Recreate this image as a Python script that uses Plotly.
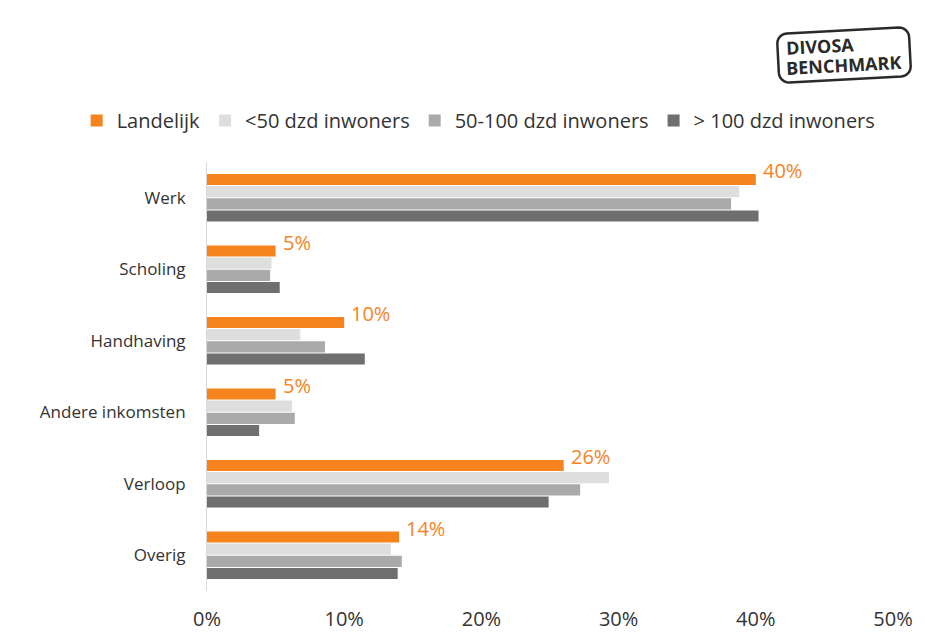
import math
import plotly.graph_objects as go

categories = ["Werk", "Scholing", "Handhaving", "Andere inkomsten", "Verloop", "Overig"]
landelijk = [40, 5, 10, 5, 26, 14]
onder_50 = [38.8, 4.7, 6.8, 6.2, 29.3, 13.4]
van_50_100 = [38.2, 4.6, 8.6, 6.4, 27.2, 14.2]
boven_100 = [40.2, 5.3, 11.5, 3.8, 24.9, 13.9]
series_names = ["Landelijk", "<50 dzd inwoners", "50-100 dzd inwoners", "> 100 dzd inwoners"]
x_ticks = [0, 10, 20, 30, 40, 50]
x_tick_labels = ["0%", "10%", "20%", "30%", "40%", "50%"]

colors = ["#F5841F", "#DEDEDE", "#AAAAAA", "#6F6F6F"]
FONT = "Open Sans"
W, H = 925, 634
L, R, T, B = 207, 32, 162, 43

fig = go.Figure()
series = [landelijk, onder_50, van_50_100, boven_100]
for name, vals, col in zip(series_names, series, colors):
    fig.add_trace(go.Bar(
        y=categories, x=vals, name=name, orientation="h",
        marker=dict(color=col, line=dict(width=0)),
        hoverinfo="x+name",
    ))

# value labels for the national series, just above the end of the orange bar
for i, v in enumerate(landelijk):
    fig.add_annotation(
        x=v, y=i - 0.255, xref="x", yref="y",
        text=f"{v}%", showarrow=False, xanchor="left", yanchor="middle",
        xshift=5, yshift=9,
        font=dict(family=FONT, size=20, color="#F5841F"),
    )


def px_to_paper(px, py):
    return (px - L) / (W - L - R), (H - B - py) / (H - T - B)


# logo: rounded, slightly tilted frame
cx, cy, bw, bh, rad, ang = 844, 55, 132, 49, 10, math.radians(-3)
pts = []
for qx, qy, a0 in [(bw / 2 - rad, -bh / 2 + rad, -90), (bw / 2 - rad, bh / 2 - rad, 0),
                   (-bw / 2 + rad, bh / 2 - rad, 90), (-bw / 2 + rad, -bh / 2 + rad, 180)]:
    for k in range(7):
        a = math.radians(a0 + k * 15)
        lx, ly = qx + rad * math.cos(a), qy + rad * math.sin(a)
        rx = lx * math.cos(ang) - ly * math.sin(ang)
        ry = lx * math.sin(ang) + ly * math.cos(ang)
        pts.append(px_to_paper(cx + rx, cy + ry))
path = "M " + " L ".join(f"{p[0]:.5f},{p[1]:.5f}" for p in pts) + " Z"
fig.add_shape(type="path", path=path, xref="paper", yref="paper",
              line=dict(color="#2a2a2a", width=2.5))
for txt, (tx, ty) in [("DIVOSA", (820, 46)), ("BENCHMARK", (843, 65))]:
    ax, ay = px_to_paper(tx, ty)
    fig.add_annotation(x=ax, y=ay, xref="paper", yref="paper", text=f"<b>{txt}</b>",
                       showarrow=False, textangle=-3, xanchor="center", yanchor="middle",
                       font=dict(family=FONT, size=18, color="#2a2a2a"))

fig.update_layout(
    width=W, height=H,
    margin=dict(l=L, r=R, t=T, b=B, autoexpand=False),
    paper_bgcolor="white", plot_bgcolor="white",
    barmode="group", bargap=0.32, bargroupgap=0.08,
    showlegend=True,
    legend=dict(orientation="h", traceorder="normal",
                x=-0.19, y=1.051, xanchor="left", yanchor="bottom",
                font=dict(family=FONT, size=20, color="#333333"),
                itemwidth=30, entrywidth=0, itemclick=False),
    xaxis=dict(range=[0, 50], tickvals=x_ticks, ticktext=x_tick_labels,
               showgrid=False, zeroline=False, showline=False, ticks="",
               ticklabelstandoff=14, automargin=False,
               tickfont=dict(family=FONT, size=20, color="#333333")),
    yaxis=dict(autorange="reversed", showgrid=False, zeroline=False,
               showline=True, linecolor="#d8d8d8", linewidth=1, ticks="",
               ticklabelstandoff=17, automargin=False,
               tickfont=dict(family=FONT, size=17, color="#333333")),
)

fig.write_html("out.html")
